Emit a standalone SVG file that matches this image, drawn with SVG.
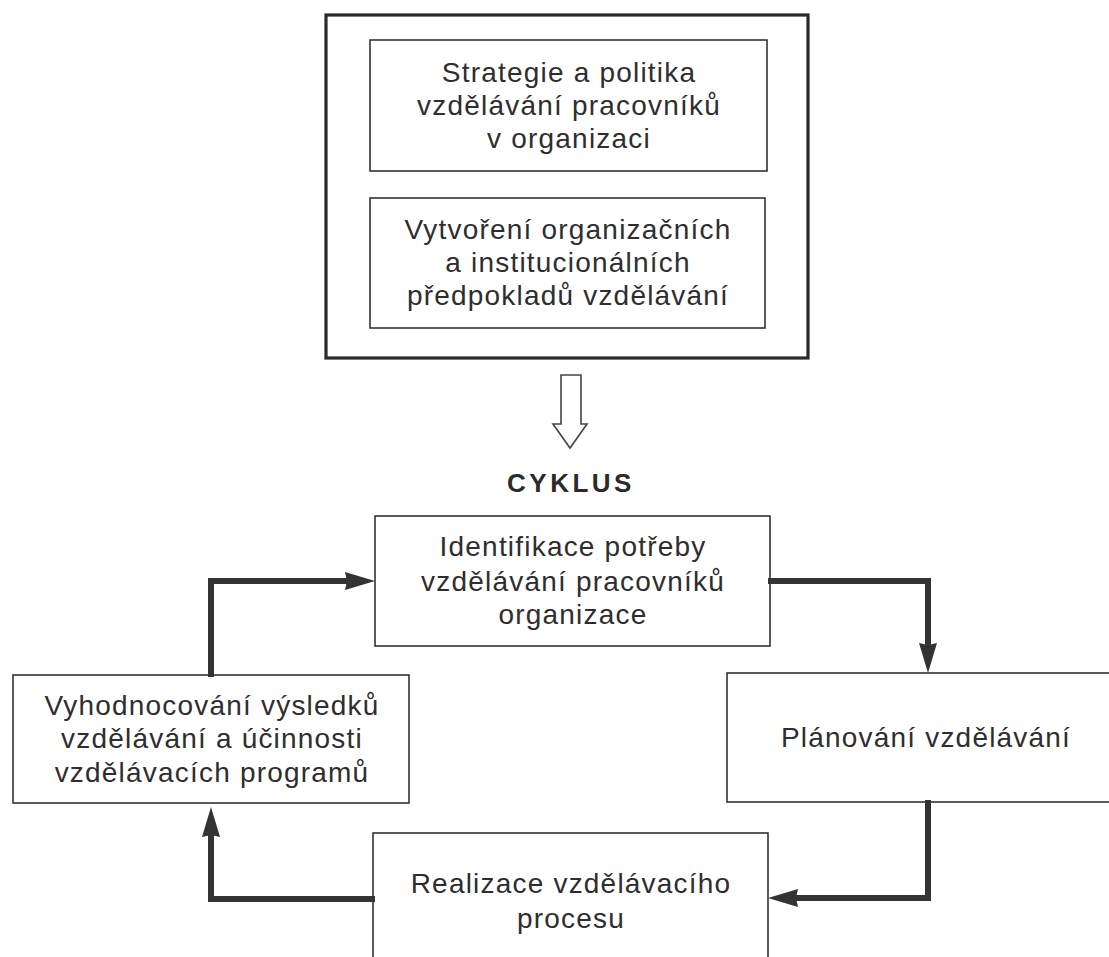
<svg xmlns="http://www.w3.org/2000/svg" width="1109" height="957" viewBox="0 0 1109 957">
<style>
.bx{fill:#fff;stroke:#333;stroke-width:1.6}
.outer{fill:#fff;stroke:#2a2a2a;stroke-width:3.2}
.t{font-family:"Liberation Sans",Arial,sans-serif;font-size:28px;fill:#2e2e2e;text-anchor:middle;letter-spacing:1.2px}
.hd{font-family:"Liberation Sans",Arial,sans-serif;font-size:26px;font-weight:bold;fill:#2a2a2a;text-anchor:middle;letter-spacing:3.5px}
.cn{fill:none;stroke:#333;stroke-width:6;stroke-linejoin:miter;stroke-linecap:square}
</style>
<defs>
<marker id="ah" viewBox="0 0 30 18" refX="6" refY="9" markerWidth="30" markerHeight="18" markerUnits="userSpaceOnUse" orient="auto">
<path d="M0,0 L30,9 L0,18 L2,9 z" fill="#333"/>
</marker>
</defs>
<rect width="1109" height="957" fill="#fff"/>
<g id="top-frame">
<rect class="outer" x="326" y="15" width="482" height="343"/>
</g>
<g id="node-strategie">
<rect class="bx" x="370" y="40" width="397" height="131"/>
<text class="t" x="569" y="82">Strategie a politika</text>
<text class="t" x="569" y="115">vzdělávání pracovníků</text>
<text class="t" x="569" y="148">v organizaci</text>
</g>
<g id="node-vytvoreni">
<rect class="bx" x="370" y="198" width="395" height="130"/>
<text class="t" x="568" y="239">Vytvoření organizačních</text>
<text class="t" x="568" y="272">a institucionálních</text>
<text class="t" x="568" y="305">předpokladů vzdělávání</text>
</g>
<g id="hollow-arrow">
<polygon points="561,375 581,375 581,424 587,424 570,448 553,424 561,424" fill="#fff" stroke="#444" stroke-width="1.6" stroke-linejoin="miter"/>
</g>
<g id="label-cyklus">
<text class="hd" x="571" y="492">CYKLUS</text>
</g>
<g id="node-identifikace">
<rect class="bx" x="375" y="516" width="395" height="130"/>
<text class="t" x="573" y="556">Identifikace potřeby</text>
<text class="t" x="573" y="591">vzdělávání pracovníků</text>
<text class="t" x="573" y="624">organizace</text>
</g>
<g id="node-planovani">
<rect class="bx" x="727" y="673" width="400" height="129"/>
<text class="t" x="926" y="747">Plánování vzdělávání</text>
</g>
<g id="node-realizace">
<rect class="bx" x="373" y="833" width="395" height="140"/>
<text class="t" x="571" y="893">Realizace vzdělávacího</text>
<text class="t" x="571" y="928">procesu</text>
</g>
<g id="node-vyhodnocovani">
<rect class="bx" x="13" y="675" width="396" height="128"/>
<text class="t" x="212" y="715">Vyhodnocování výsledků</text>
<text class="t" x="212" y="748">vzdělávání a účinnosti</text>
<text class="t" x="212" y="782">vzdělávacích programů</text>
</g>
<g id="connectors">
<path class="cn" d="M771,581 L928,581 L928,649" marker-end="url(#ah)"/>
<path class="cn" d="M928,803 L928,898 L792,898" marker-end="url(#ah)"/>
<path class="cn" d="M372,899 L211,899 L211,831" marker-end="url(#ah)"/>
<path class="cn" d="M211,674 L211,581 L351,581" marker-end="url(#ah)"/>
</g>
</svg>
